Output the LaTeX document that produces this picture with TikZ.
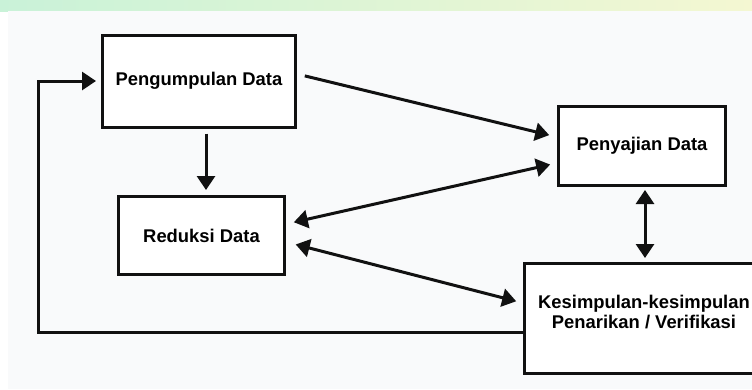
\documentclass[tikz,border=0pt]{standalone}
\usepackage{fontspec}
\setmainfont{Liberation Sans}
\usepackage{tikz}
\usetikzlibrary{arrows.meta,positioning}
\definecolor{PanelBG}  {HTML}{F9FAFB}
\definecolor{MarkGreen}{HTML}{C9F2D8}
\definecolor{MarkYellow}{HTML}{F4F7D2}
\definecolor{LineBlack}{HTML}{111111}

\begin{document}
\begin{tikzpicture}[x=1pt,y=-1pt,
    box/.style={draw=LineBlack,line width=3pt,fill=white,align=center,
                font=\bfseries\fontsize{18.4}{20}\selectfont,inner sep=0pt},
    arr/.style={-{Triangle[length=14pt,width=18pt]},line width=3pt,color=LineBlack},
    dbl/.style={{Triangle[length=14pt,width=18pt]}-{Triangle[length=14pt,width=18pt]},
                line width=3pt,color=LineBlack}]
    \useasboundingbox (0,0) rectangle (752,389);
    \clip (0,0) rectangle (752,389);
    % background with the faint watermark band
    \fill[white] (0,0) rectangle (752,389);
    \shade[left color=MarkGreen,right color=MarkYellow] (0,0) rectangle (752,11);
    \fill[PanelBG] (8,11) rectangle (752,389);
    % steps
    \node[box,minimum width=193pt,minimum height=92pt] (pg) at (199,81) {Pengumpulan Data};
    \node[box,minimum width=166pt,minimum height=78pt] (rd) at (201.5,235.5) {Reduksi Data};
    \node[box,minimum width=167pt,minimum height=79pt] (pj) at (642,146) {Penyajian Data};
    \node[box,minimum width=239pt,minimum height=110pt] (ks) at (644,318.5)
      {Kesimpulan-kesimpulan\\Penarikan / Verifikasi\\[-6pt]\mbox{}};
    \coordinate (back) at (38,332);
    % links
    \draw[arr,shorten <=5pt,shorten >=5pt] ([xshift=7pt]pg.south) -- ([xshift=4.5pt]rd.north);
    \draw[arr,shorten <=8pt,shorten >=8pt] ([yshift=7pt]pg.east) -- ([yshift=9pt]pj.west);
    \draw[dbl,shorten <=8pt,shorten >=7pt] ([yshift=11.5pt]rd.east) -- ([yshift=-17pt]pj.west);
    \draw[dbl,shorten <=10pt,shorten >=7pt] ([yshift=-6.5pt]rd.east) -- ([yshift=15.5pt]ks.west);
    \draw[dbl,shorten <=3pt,shorten >=4pt] ([xshift=3pt]pj.south) -- ([xshift=1pt]ks.north);
    \draw[arr,shorten >=5pt] ([yshift=-13.5pt]ks.west) -- (back) |- (pg.west);
\end{tikzpicture}
\end{document}
